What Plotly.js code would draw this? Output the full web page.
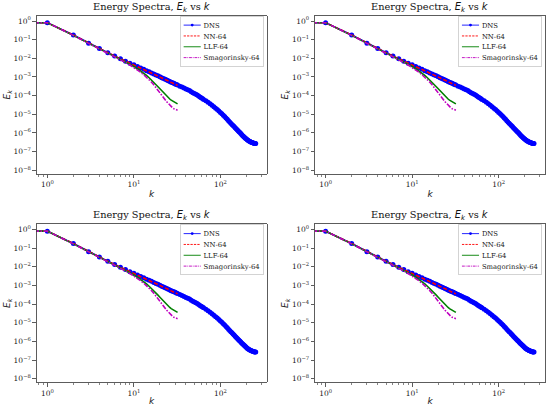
<!DOCTYPE html>
<html><head><meta charset="utf-8">
<script src="https://cdn.plot.ly/plotly-3.0.1.min.js"></script>
<style>html,body{margin:0;padding:0;background:#fff}</style>
</head><body><div id="chart" style="width:550px;height:406px"></div>
<script>
// ---- data (E stored as log10) ----
const seriesNames = ['DNS', 'NN-64', 'LLF-64', 'Smagorinsky-64'];
const kDns = [0.7, 1, 2, 3, 4, 5, 6, 7, 8, 9, 10, 11, 12, 13, 14, 15, 16, 17, 18, 19, 20, 21, 22, 23, 24, 25, 26, 27, 28, 29, 30, 31, 32,
  34, 36, 38, 40, 42, 44, 46, 48, 50, 52, 54, 56, 58, 60, 62, 64,
  68, 72, 76, 80, 84, 88, 92, 96, 100, 104, 108, 112, 116, 120, 124, 128,
  132, 136, 140, 144, 148, 152, 156, 160, 164, 168, 172, 176, 180, 184, 188, 192,
  196, 200, 204, 208, 212, 216, 220, 224, 228, 232, 236, 240, 244, 248, 252, 256];
const logEDns = [-0.09, -0.09, -0.75, -1.19, -1.47, -1.70, -1.88, -2.02, -2.15, -2.26, -2.35, -2.44, -2.52, -2.59, -2.66, -2.72, -2.78, -2.84, -2.89, -2.94, -2.99, -3.04, -3.08, -3.12, -3.16, -3.20, -3.24, -3.28, -3.31, -3.34, -3.37, -3.40, -3.43,
  -3.49, -3.54, -3.59, -3.64, -3.68, -3.73, -3.79, -3.84, -3.88, -3.93, -3.97, -4.02, -4.07, -4.11, -4.15, -4.20,
  -4.28, -4.36, -4.44, -4.52, -4.60, -4.67, -4.74, -4.82, -4.90, -4.97, -5.05, -5.12, -5.20, -5.27, -5.34, -5.41,
  -5.48, -5.54, -5.60, -5.66, -5.72, -5.78, -5.83, -5.88, -5.93, -5.98, -6.03, -6.08, -6.13, -6.17, -6.21, -6.25,
  -6.29, -6.32, -6.36, -6.39, -6.42, -6.44, -6.46, -6.48, -6.50, -6.51, -6.53, -6.54, -6.55, -6.56, -6.565, -6.57];
const kLes = [0.7, 1, 2, 3, 4, 5, 6, 7, 8, 9, 10, 11, 12, 13, 14, 15, 16, 17, 18, 19, 20, 21, 22, 23, 24, 25, 26, 27, 28, 29, 30, 31, 32];
const logENn = [-0.09, -0.09, -0.75, -1.19, -1.47, -1.70, -1.88, -2.02, -2.15, -2.26, -2.36, -2.45, -2.53, -2.60, -2.67, -2.73, -2.79, -2.85, -2.90, -2.95, -3.00, -3.05, -3.09, -3.13, -3.17, -3.21, -3.25, -3.29, -3.32, -3.35, -3.39, -3.42, -3.45];
const logELlf = [-0.09, -0.09, -0.77, -1.21, -1.49, -1.72, -1.90, -2.05, -2.19, -2.32, -2.44, -2.56, -2.68, -2.80, -2.92, -3.04, -3.16, -3.28, -3.40, -3.52, -3.63, -3.74, -3.84, -3.94, -4.03, -4.11, -4.18, -4.24, -4.29, -4.34, -4.38, -4.41, -4.44];
const logESmag = [-0.09, -0.09, -0.77, -1.22, -1.50, -1.73, -1.91, -2.07, -2.22, -2.36, -2.49, -2.62, -2.75, -2.88, -3.01, -3.14, -3.28, -3.42, -3.56, -3.70, -3.84, -3.97, -4.10, -4.22, -4.33, -4.43, -4.52, -4.59, -4.65, -4.70, -4.73, -4.76, -4.78];
const xTickVals = [1, 10, 100];
const xTickText = ['10<sup>0</sup>', '10<sup>1</sup>', '10<sup>2</sup>'];
const xMinorVals = [0.8, 0.9, 2, 3, 4, 5, 6, 7, 8, 9, 20, 30, 40, 50, 60, 70, 80, 90, 200, 300];
const yTickVals = [1e-8, 1e-7, 1e-6, 1e-5, 1e-4, 1e-3, 1e-2, 1e-1, 1];
const yTickText = ['10<sup>\u22128</sup>', '10<sup>\u22127</sup>', '10<sup>\u22126</sup>', '10<sup>\u22125</sup>', '10<sup>\u22124</sup>', '10<sup>\u22123</sup>', '10<sup>\u22122</sup>', '10<sup>\u22121</sup>', '10<sup>0</sup>'];
const panelTitle = 'Energy Spectra, <span style="font-family:DejaVu Sans"><i>E<sub>k</sub></i></span> vs <span style="font-family:DejaVu Sans"><i>k</i></span>';
const xLabel = '<i>k</i>';
const yLabel = '<i>E<sub>k</sub></i>';

// ---- build ----
const toE = a => a.map(v => Math.pow(10, v));
const SERIF = 'DejaVu Serif';
const panels = [
  {sx: '', xd: [0.0667, 0.4849], yd: [0.5714, 0.9618], leg: 'legend', lx: 263.3, ly: 16},
  {sx: '2', xd: [0.5727, 0.9909], yd: [0.5714, 0.9618], leg: 'legend2', lx: 541.6, ly: 16},
  {sx: '3', xd: [0.0667, 0.4849], yd: [0.0579, 0.4483], leg: 'legend3', lx: 263.3, ly: 224.5},
  {sx: '4', xd: [0.5727, 0.9909], yd: [0.0579, 0.4483], leg: 'legend4', lx: 541.6, ly: 224.5}
];
const traces = [];
const layout = {
  width: 550, height: 406, margin: {l: 0, r: 0, t: 0, b: 0},
  paper_bgcolor: '#fff', plot_bgcolor: '#fff', showlegend: true,
  font: {family: SERIF, color: '#222'},
  annotations: []
};
panels.forEach(p => {
  const xa = 'x' + p.sx, ya = 'y' + p.sx;
  traces.push({x: kDns, y: toE(logEDns), name: seriesNames[0], xaxis: xa, yaxis: ya, legend: p.leg,
    mode: 'lines+markers', line: {color: '#0000ff', width: 1.5}, marker: {symbol: 'circle', size: 5, color: '#0000ff'}});
  traces.push({x: kLes, y: toE(logENn), name: seriesNames[1], xaxis: xa, yaxis: ya, legend: p.leg,
    mode: 'lines', line: {color: '#ff0000', width: 1.6, dash: '4px,2px'}});
  traces.push({x: kLes, y: toE(logELlf), name: seriesNames[2], xaxis: xa, yaxis: ya, legend: p.leg,
    mode: 'lines', line: {color: '#008000', width: 1.6}});
  traces.push({x: kLes, y: toE(logESmag), name: seriesNames[3], xaxis: xa, yaxis: ya, legend: p.leg,
    mode: 'lines', line: {color: '#bf00bf', width: 1.6, dash: '5px,1.5px,1.5px,1.5px'}});
  layout['xaxis' + p.sx] = {
    type: 'log', domain: p.xd, range: [-0.123, 2.535], anchor: ya, automargin: false,
    showgrid: false, zeroline: false, showline: true, mirror: true, linecolor: '#333', linewidth: 0.8,
    ticks: 'outside', ticklen: 3.5, tickwidth: 0.8, tickcolor: '#333',
    tickmode: 'array', tickvals: xTickVals, ticktext: xTickText,
    tickfont: {family: SERIF, size: 7.5, color: '#222'},
    minor: {tickmode: 'array', tickvals: xMinorVals, ticks: 'outside', ticklen: 2, tickwidth: 0.6, tickcolor: '#333', showgrid: false},
    title: {text: xLabel, font: {family: 'DejaVu Sans', size: 9, color: '#222'}, standoff: 2}
  };
  layout['yaxis' + p.sx] = {
    type: 'log', domain: p.yd, range: [-8.2, 0.295], anchor: xa, automargin: false,
    showgrid: false, zeroline: false, showline: true, mirror: true, linecolor: '#333', linewidth: 0.8,
    ticks: 'outside', ticklen: 3.5, tickwidth: 0.8, tickcolor: '#333',
    tickmode: 'array', tickvals: yTickVals, ticktext: yTickText,
    tickfont: {family: SERIF, size: 7.5, color: '#222'},
    title: {text: yLabel, font: {family: 'DejaVu Sans', size: 9, color: '#222'}, standoff: 1}
  };
  layout[p.leg] = {
    x: p.xd[1], xanchor: 'right', y: p.yd[1], yanchor: 'top',
    bgcolor: 'rgba(255,255,255,0.85)', bordercolor: '#cccccc', borderwidth: 1.5,
    font: {family: SERIF, size: 12, color: '#222'}, traceorder: 'normal'
  };
  layout.annotations.push({
    text: panelTitle, xref: 'paper', yref: 'paper',
    x: (p.xd[0] + p.xd[1]) / 2, xanchor: 'center',
    y: p.yd[1] + 8 / 406, yanchor: 'middle', showarrow: false,
    font: {family: SERIF, size: 9.8, color: '#111'}
  });
});

Plotly.newPlot('chart', traces, layout, {staticPlot: true, displayModeBar: false}).then(gd => {
  const s = 0.57;
  panels.forEach(p => {
    const g = gd.querySelector('g.' + p.leg);
    if (!g) return;
    const bb = g.getBBox();
    const w = bb.x + bb.width;
    g.setAttribute('transform', 'translate(' + (p.lx - w * s) + ',' + p.ly + ') scale(' + s + ')');
  });
});
</script>
</body></html>
